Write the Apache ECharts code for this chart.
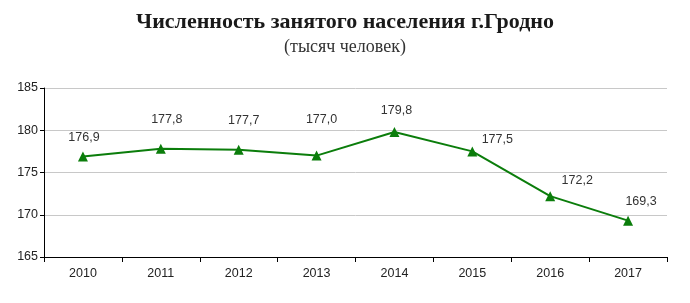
<!DOCTYPE html>
<html><head><meta charset="utf-8">
<script src="https://cdn.jsdelivr.net/npm/echarts@6/dist/echarts.min.js"></script>
<style>html,body{margin:0;padding:0;background:#fff}#c{width:690px;height:303px}</style>
</head><body><div id="c"></div>
<script>
const categories = ['2010','2011','2012','2013','2014','2015','2016','2017'];
const values = [176.9, 177.8, 177.7, 177.0, 179.8, 177.5, 172.2, 169.3];
const yTicks = [165, 170, 175, 180, 185];

const labelOffsets = [[1,-19],[6,-29],[5,-29],[5,-36],[2,-21],[25,-12],[27,-16],[13,-19]];
const chart = echarts.init(document.getElementById('c'));
chart.setOption({
  backgroundColor: '#fff',
  animation: false,
  title: [{
    text: 'Численность занятого населения г.Гродно',
    left: 'center', top: 6,
    textStyle: { fontFamily: 'Liberation Serif', fontWeight: 'bold', fontSize: 22, color: '#1a1a1a' }
  },{
    text: '(тысяч человек)',
    left: 'center', top: 33,
    textStyle: { fontFamily: 'Liberation Serif', fontWeight: 'normal', fontSize: 18, color: '#333' }
  }],
  grid: { left: 44, right: 23, top: 88, bottom: 46, containLabel: false },
  xAxis: {
    type: 'category', data: categories, boundaryGap: true,
    axisLine: { lineStyle: { color: '#000', width: 1 } },
    axisTick: { show: true, inside: false, length: 5, lineStyle: { color: '#000' } },
    axisLabel: { color: '#222', fontFamily: 'Liberation Sans', fontSize: 12.5, margin: 10 }
  },
  yAxis: {
    type: 'value', min: yTicks[0], max: yTicks[yTicks.length-1], interval: 5,
    axisLine: { show: true, lineStyle: { color: '#000', width: 1 } },
    axisTick: { show: true, length: 4, lineStyle: { color: '#000' } },
    axisLabel: { color: '#222', fontFamily: 'Liberation Sans', fontSize: 12.5, margin: 6 },
    splitLine: { show: true, lineStyle: { color: '#c8c8c8', width: 1 } }
  },
  series: [{
    type: 'line',
    data: values.map((v, i) => ({
      value: v,
      label: { offset: labelOffsets[i] }
    })),
    symbol: 'triangle', symbolSize: 10,
    lineStyle: { color: '#0b7d0b', width: 2 },
    itemStyle: { color: '#0b7d0b' },
    label: {
      show: true, position: 'inside',
      color: '#333', fontFamily: 'Liberation Sans', fontSize: 12.5,
      formatter: p => p.value.toFixed(1).replace('.', ',')
    }
  }]
});
</script></body></html>
